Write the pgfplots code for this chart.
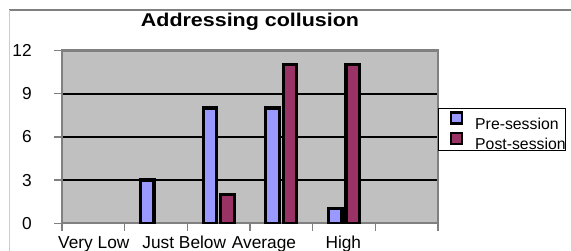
\documentclass[border=0pt]{standalone}
\usepackage{pgfplots}
\pgfplotsset{compat=1.18}
\usepackage{fontspec}
\setmainfont{Liberation Sans}
\definecolor{preC}{HTML}{9999FF}
\definecolor{postC}{HTML}{993366}
\definecolor{plotbg}{HTML}{C0C0C0}
\definecolor{axgray}{HTML}{808080}
\begin{document}
\begin{tikzpicture}
\useasboundingbox (0,0) rectangle (571bp,251bp);
\draw[color=axgray, line width=1.5bp] (9bp,241bp) -- (571bp,241bp);
\draw[color=black!20, line width=1bp] (9bp,241bp) -- (9bp,0bp);
\begin{axis}[
  at={(61.9bp,27.7bp)}, anchor=south west,
  scale only axis, width=376.2bp, height=172.8bp,
  xmin=0, xmax=6, ymin=0, ymax=12,
  ybar=4bp, bar width=13.5bp,
  axis background/.style={fill=plotbg},
  axis line style={axgray, line width=2.2bp},
  xtick={0,1,2,3,4,5,6}, xticklabels={},
  extra x ticks={0.509,1.952,3.223,4.488},
  extra x tick labels={Very Low, Just Below, Average, High},
  extra x tick style={grid=none, major tick length=0pt,
     xticklabel style={anchor=base, yshift=-25bp}},
  ytick={0,3,6,9,12},
  xtick pos=lower, ytick pos=left,
  tick align=outside, major tick length=7.5bp,
  tick style={axgray, line width=1.5bp},
  ymajorgrids, grid style={black, line width=2.2bp},
  /pgf/number format/assume math mode=true,
  tick label style={font=\fontsize{17.3bp}{19bp}\selectfont},
  yticklabel style={anchor=east, inner sep=0pt, xshift=-22.5bp},
  title={\scalebox{1.16}[1]{Addressing collusion}},
  title style={at={(0.5,1.107)}, anchor=base, inner sep=0pt,
     font=\bfseries\fontsize{18.5bp}{20bp}\selectfont},
  legend style={at={(1,0.6655)}, anchor=north west, draw=black,
     line width=0.8bp, fill=white, inner sep=0pt, row sep=0pt,
     column sep=0pt, font=\fontsize{15.8bp}{17bp}\selectfont,
     nodes={inner sep=0pt, text depth=0pt},
     column 2/.style={nodes={text width=100bp, align=left}}},
  legend cell align=left,
  legend image code/.code={%
     \path[draw=none, fill=none] (0bp,-2.3bp) rectangle (36.7bp,14.9bp);
     \draw[#1, line width=2.4bp] (12.4bp,0.2bp) rectangle (23.4bp,11.2bp);},
]
\addplot[fill=preC, draw=black, /tikz/line width=3.2bp] coordinates {(1.5,3) (2.5,8) (3.5,8) (4.5,1)};
\addplot[fill=postC, draw=black, /tikz/line width=3.2bp] coordinates {(2.5,2) (3.5,11) (4.5,11)};
\legend{Pre-session, Post-session}
\end{axis}
\end{tikzpicture}
\end{document}
